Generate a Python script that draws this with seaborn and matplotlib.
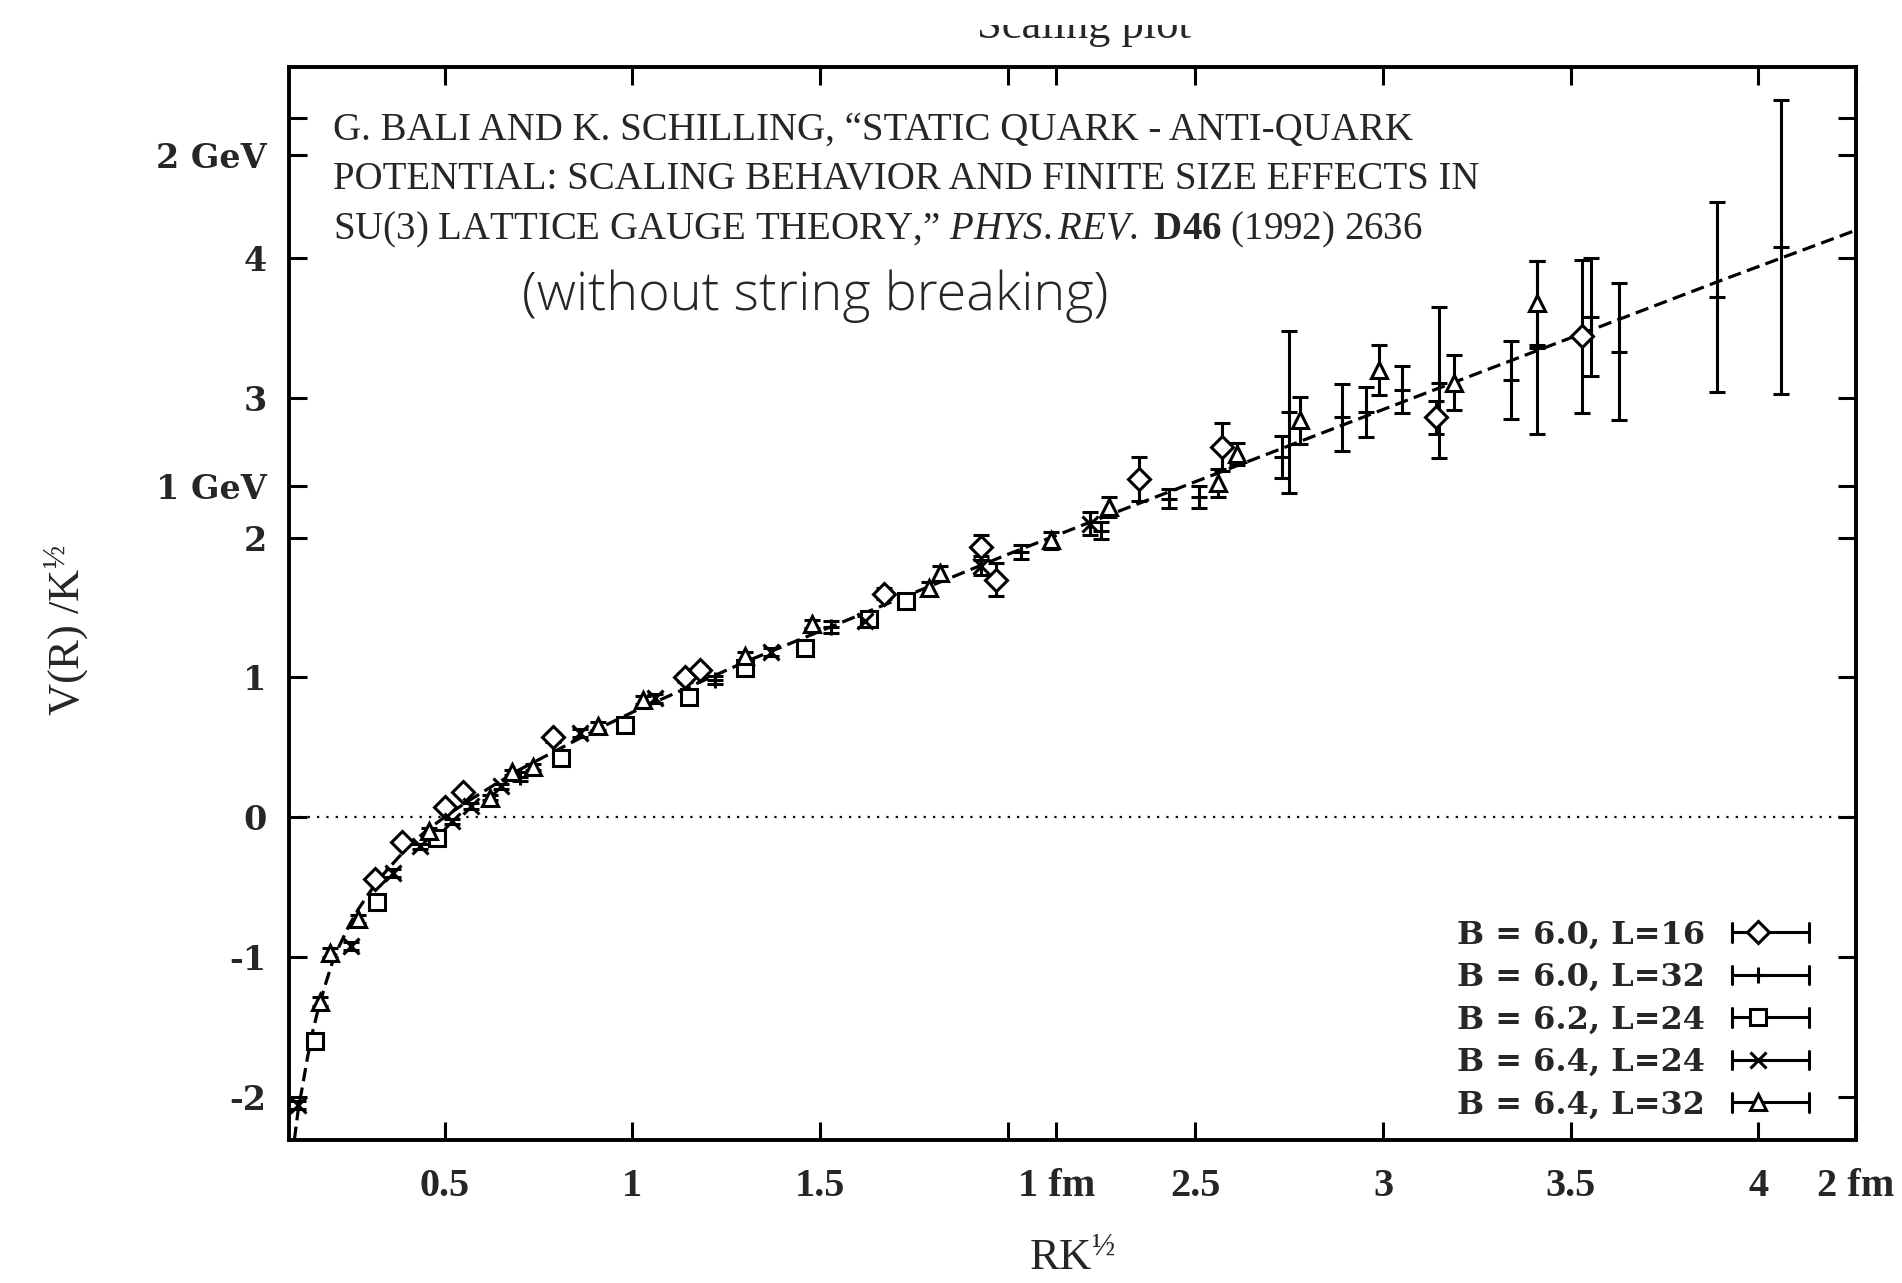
import numpy as np
import pandas as pd
import matplotlib
matplotlib.use("Agg")
import matplotlib.pyplot as plt
import seaborn as sns
from matplotlib.lines import Line2D
from matplotlib.legend_handler import HandlerBase
from matplotlib.transforms import Bbox, TransformedBbox

# --- data (units of sqrt(K)) ---
# B = 6.0, L = 16  (diamonds)
b60_16_x = [0.315, 0.387, 0.50, 0.55, 0.79, 1.14, 1.18, 1.67, 1.93, 1.97, 2.35, 2.57, 3.14, 3.53]
b60_16_y = [-0.44, -0.18, 0.07, 0.18, 0.57, 1.00, 1.05, 1.60, 1.93, 1.70, 2.42, 2.65, 2.86, 3.44]
b60_16_e = [0.02, 0.02, 0.02, 0.02, 0.03, 0.03, 0.03, 0.04, 0.09, 0.12, 0.16, 0.17, 0.12, 0.55]

# B = 6.0, L = 32  (plain error bars)
b60_32_x = [0.70, 1.22, 1.53, 2.035, 2.25, 2.43, 2.51, 2.73, 2.75, 2.89, 2.955, 3.05, 3.15,
            3.34, 3.41, 3.555, 3.63, 3.89, 4.06]
b60_32_y = [0.29, 0.98, 1.36, 1.90, 2.05, 2.28, 2.29, 2.58, 2.90, 2.86, 2.90, 3.06, 3.11,
            3.13, 3.36, 3.58, 3.33, 3.72, 4.08]
b60_32_e = [0.03, 0.03, 0.04, 0.05, 0.06, 0.07, 0.08, 0.15, 0.58, 0.24, 0.18, 0.17, 0.54,
            0.28, 0.62, 0.42, 0.49, 0.68, 1.05]

# B = 6.2, L = 24  (squares)
b62_24_x = [0.155, 0.32, 0.48, 0.81, 0.98, 1.15, 1.30, 1.46, 1.63, 1.73]
b62_24_y = [-1.60, -0.61, -0.15, 0.42, 0.66, 0.86, 1.07, 1.21, 1.42, 1.55]
b62_24_e = [0.03, 0.03, 0.02, 0.02, 0.03, 0.03, 0.03, 0.03, 0.03, 0.03]

# B = 6.4, L = 24  (crosses)
b64_24_x = [0.11, 0.25, 0.363, 0.435, 0.52, 0.57, 0.65, 0.86, 1.06, 1.37, 1.62, 1.93, 2.22]
b64_24_y = [-2.06, -0.92, -0.40, -0.21, -0.03, 0.08, 0.22, 0.60, 0.85, 1.18, 1.40, 1.80, 2.10]
b64_24_e = [0.03, 0.03, 0.03, 0.02, 0.02, 0.02, 0.02, 0.03, 0.03, 0.03, 0.04, 0.07, 0.08]

# B = 6.4, L = 32  (triangles)
b64_32_x = [0.168, 0.195, 0.27, 0.46, 0.62, 0.68, 0.735, 0.91, 1.03, 1.30, 1.48, 1.79, 1.82,
            2.115, 2.27, 2.56, 2.61, 2.78, 2.99, 3.19, 3.41]
b64_32_y = [-1.32, -0.97, -0.73, -0.10, 0.14, 0.32, 0.36, 0.65, 0.84, 1.15, 1.38, 1.64, 1.75,
            1.98, 2.22, 2.39, 2.60, 2.84, 3.20, 3.11, 3.68]
b64_32_e = [0.03, 0.03, 0.03, 0.02, 0.02, 0.02, 0.02, 0.03, 0.03, 0.03, 0.03, 0.04, 0.05,
            0.06, 0.07, 0.10, 0.08, 0.17, 0.18, 0.20, 0.30]

# dashed fit curve
fit_x = [0.10, 0.11, 0.12, 0.135, 0.15, 0.165, 0.18, 0.20, 0.22, 0.245, 0.27, 0.30, 0.33, 0.37,
         0.40, 0.45, 0.50, 0.56, 0.62, 0.70, 0.80, 0.90, 1.0, 1.15, 1.3, 1.5, 1.7, 2.0,
         2.2, 2.5, 2.8, 3.1, 3.5, 3.9, 4.26]
fit_y = [-2.31, -2.10, -1.95, -1.72, -1.52, -1.36, -1.22, -1.05, -0.92, -0.78, -0.66, -0.54,
         -0.43, -0.31, -0.22, -0.10, 0.0, 0.11, 0.21, 0.34, 0.48, 0.62, 0.75, 0.93, 1.11,
         1.33, 1.55, 1.88, 2.09, 2.40, 2.71, 3.02, 3.43, 3.84, 4.20]

x_ticks = [0.5, 1, 1.5, 2, 2.13, 2.5, 3, 3.5, 4, 4.26]
x_labels = ["0.5", "1", "1.5", "", "1 fm", "2.5", "3", "3.5", "4", "2 fm"]
y_ticks = [-2, -1, 0, 1, 2, 3, 4, 5, 2.37, 4.74]
y_labels = ["-2", "-1", "0", "1", "2", "3", "4", "", "1 GeV", "2 GeV"]

series = [
    ("B = 6.0, L=16", b60_16_x, b60_16_y, b60_16_e, "D", 11),
    ("B = 6.0, L=32", b60_32_x, b60_32_y, b60_32_e, "+", 12),
    ("B = 6.2, L=24", b62_24_x, b62_24_y, b62_24_e, "s", 11),
    ("B = 6.4, L=24", b64_24_x, b64_24_y, b64_24_e, "x", 11),
    ("B = 6.4, L=32", b64_32_x, b64_32_y, b64_32_e, "^", 11),
]

sns.set_theme(style="ticks")
plt.rcParams["font.family"] = ["Liberation Serif", "DejaVu Serif"]
plt.rcParams["mathtext.fontset"] = "custom"
plt.rcParams["mathtext.rm"] = "Liberation Serif"
plt.rcParams["mathtext.it"] = "Liberation Serif:italic"
plt.rcParams["mathtext.bf"] = "Liberation Serif:bold"

fig = plt.figure(figsize=(19.02, 12.83), dpi=100)
ax = fig.add_axes([0.1518, 0.1115, 0.824, 0.8365])

# zero line and fit
ax.axhline(0, color="black", lw=1.6, ls=(0, (1, 3.2)), zorder=1)
fit_df = pd.DataFrame({"x": fit_x, "y": fit_y})
sns.lineplot(data=fit_df, x="x", y="y", ax=ax, color="black", lw=2.3,
             dashes=False, sort=False, estimator=None, zorder=2)
ax.lines[-1].set_dashes((4.2, 2.0))

for name, xs, ys, es, mk, ms in series:
    ax.errorbar(xs, ys, yerr=es, fmt=mk, ms=ms, mfc="white", mec="black", mew=2.2,
                color="black", ecolor="black", elinewidth=2.2, capsize=6, capthick=2.2,
                zorder=3)

ax.set_xlim(0.085, 4.26)
ax.set_ylim(-2.31, 5.37)

ax.set_xticks(x_ticks)
ax.set_xticklabels(x_labels, fontsize=29, fontweight="bold", family="Liberation Serif")
ax.set_yticks(y_ticks)
ax.set_yticklabels(y_labels, fontsize=24, fontweight="bold", family="DejaVu Serif")
ax.tick_params(axis="y", direction="in", length=13, width=2.2, right=True,
               color="black", pad=16)
ax.tick_params(axis="x", direction="in", length=13, width=2.2, top=True,
               color="black", pad=20)
for sp in ax.spines.values():
    sp.set_linewidth(2.8)
    sp.set_color("black")

ax.set_xlabel(r"$\mathrm{RK}^{½}$", fontsize=32, labelpad=24)
ax.set_ylabel(r"$\mathrm{V(R)\ /K}^{½}$", fontsize=32)
ax.yaxis.set_label_coords(-0.126, 0.475)

# citation and note
cite = ("G. BALI AND K. SCHILLING, \u201cSTATIC QUARK - ANTI-QUARK\n"
        "POTENTIAL: SCALING BEHAVIOR AND FINITE SIZE EFFECTS IN\n"
        "SU(3) LATTICE GAUGE THEORY,\u201d $\\mathit{PHYS.REV.}$ $\\mathbf{D46}$ (1992) 2636")
ax.text(0.028, 0.958, cite, transform=ax.transAxes, ha="left", va="top",
        fontsize=28, family="Liberation Serif", linespacing=1.42)
ax.text(0.336, 0.786, "(without string breaking)", transform=ax.transAxes,
        ha="center", va="center", fontsize=39, family="Open Sans", fontweight="light")

# title, cut off at the top like the scan
title = fig.text(0.570, 0.9700, "Scaling plot", ha="center", va="baseline",
                 fontsize=32, family="Liberation Serif")
title.set_clip_box(TransformedBbox(Bbox([[0, 0], [1, 1 - 25 / 1283]]), fig.transFigure))
title.set_clip_on(True)


class KeySample(HandlerBase):
    # gnuplot style key sample: horizontal bar with end caps, point at one third
    def create_artists(self, legend, orig_handle, xdescent, ydescent, width, height,
                       fontsize, trans):
        x0 = -xdescent
        x1 = x0 + width
        yc = -ydescent + height / 2
        cap = height * 0.42
        arts = [
            Line2D([x0, x1], [yc, yc], color="black", lw=2.2),
            Line2D([x0, x0], [yc - cap, yc + cap], color="black", lw=2.2),
            Line2D([x1, x1], [yc - cap, yc + cap], color="black", lw=2.2),
            Line2D([x0 + width / 3], [yc], marker=orig_handle.get_marker(),
                   ms=orig_handle.get_markersize(), mfc="white", mec="black",
                   mew=2.2, ls="none"),
        ]
        for a in arts:
            a.set_transform(trans)
        return arts


handles = [Line2D([], [], marker=mk, ms=ms, ls="none", label=name)
           for name, xs, ys, es, mk, ms in series]
leg = ax.legend(handles=handles, loc="lower right", bbox_to_anchor=(0.970, 0.018),
                frameon=False, markerfirst=False, handlelength=2.4, handletextpad=0.85,
                labelspacing=0.36, borderpad=0, borderaxespad=0,
                prop={"family": "DejaVu Serif", "weight": "bold", "size": 23},
                handler_map={h: KeySample() for h in handles})

fig.savefig("out.png", dpi=100, facecolor="white")
